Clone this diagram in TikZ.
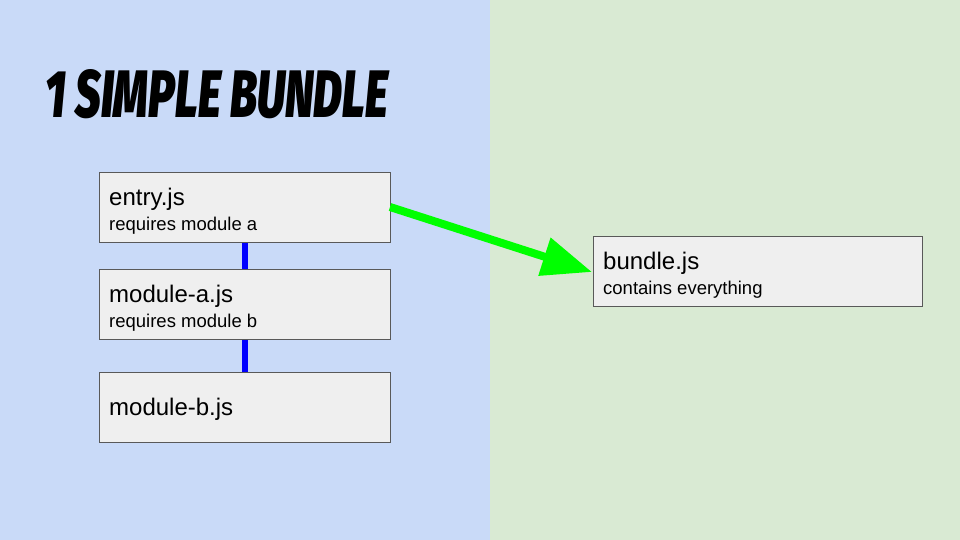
\documentclass[tikz,border=0pt]{standalone}
\usepackage{fontspec}
\usepackage{graphicx}
\setmainfont{Liberation Sans}
\newfontfamily\titlefont{Fira Sans}[UprightFont=* Black, ItalicFont=* Black Italic]
\usetikzlibrary{arrows.meta}
\definecolor{leftbg}{HTML}{C9DAF8}
\definecolor{rightbg}{HTML}{D9EAD3}
\definecolor{boxfill}{HTML}{EFEFEF}
\definecolor{boxline}{HTML}{595959}
\definecolor{linkblue}{HTML}{0000FF}
\definecolor{arrowgreen}{HTML}{00FF00}
\tikzset{
  filebox/.style={draw=boxline, line width=1pt, fill=boxfill, minimum width=291pt, minimum height=70pt, inner sep=0pt, anchor=north west},
  maintext/.style={font=\fontsize{24}{28}\selectfont, anchor=base west, inner sep=0pt},
  subtext/.style={font=\fontsize{18.5}{22}\selectfont, anchor=base west, inner sep=0pt},
  link/.style={draw=linkblue, line width=6pt},
  bigarrow/.style={draw=arrowgreen, line width=8pt, -{Triangle[length=50pt, width=38pt]}}
}
\begin{document}
\begin{tikzpicture}[x=1pt, y=-1pt]
\useasboundingbox (0,0) rectangle (960,540);
\fill[leftbg] (0,0) rectangle (490,540);
\fill[rightbg] (490,0) rectangle (960,540);
\node[anchor=base west, inner sep=0pt] (title) at (45,118) {\resizebox{343pt}{48pt}{\titlefont\itshape 1 SIMPLE BUNDLE}};
\node[filebox] (entry) at (99,172) {};
\node[filebox] (moda) at (99,269) {};
\node[filebox] (modb) at (99,372) {};
\node[filebox, minimum width=329pt] (bundle) at (593,236) {};
\node[maintext] (entryt) at (109,205) {entry.js};
\node[subtext] (entrys) at (109,230) {requires module a};
\node[maintext] (modat) at (109,302) {module-a.js};
\node[subtext] (modas) at (109,327) {requires module b};
\node[maintext] (modbt) at (109,415) {module-b.js};
\node[maintext] (bundlet) at (603,269) {bundle.js};
\node[subtext] (bundles) at (603,294) {contains everything};
\draw[link] (entry.south -| 245,0) -- (moda.north -| 245,0);
\draw[link] (moda.south -| 245,0) -- (modb.north -| 245,0);
\coordinate (astart) at (390,207);
\coordinate (aend) at (592,272);
\draw[bigarrow] (astart) -- (aend);
\end{tikzpicture}
\end{document}
